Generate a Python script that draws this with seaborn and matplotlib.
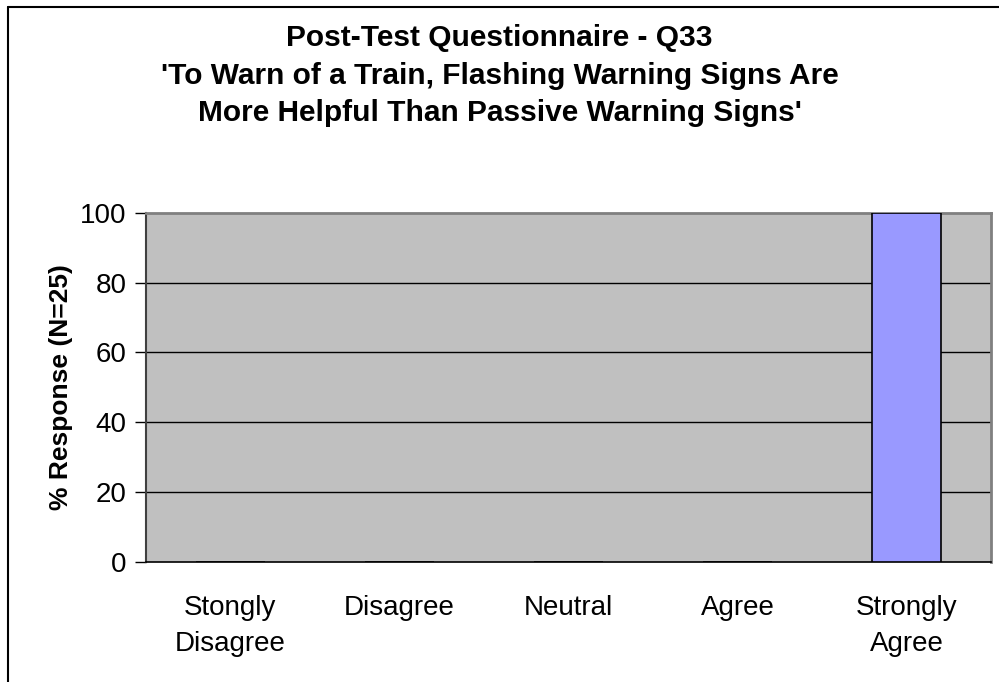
import numpy as np
import pandas as pd
import seaborn as sns
import matplotlib.pyplot as plt
from matplotlib.lines import Line2D

categories = ['Stongly\nDisagree', 'Disagree', 'Neutral', 'Agree', 'Strongly\nAgree']
pct_response = [0, 0, 0, 0, 100]
yticks = [0, 20, 40, 60, 80, 100]

df = pd.DataFrame({'answer': categories, 'pct': pct_response})

sns.set_style('white')
plt.rcParams['font.family'] = ['Liberation Sans', 'DejaVu Sans']
plt.rcParams['text.color'] = 'black'
plt.rcParams['axes.labelcolor'] = 'black'
plt.rcParams['xtick.color'] = 'black'
plt.rcParams['ytick.color'] = 'black'

fig = plt.figure(figsize=(9.99, 6.82), dpi=100)
ax = fig.add_axes([0.146, 0.176, 0.846, 0.512])
ax.set_facecolor('#C0C0C0')

sns.barplot(data=df, x='answer', y='pct', order=categories, color='#9999FF',
            edgecolor='black', linewidth=1.2, width=0.41, saturation=1, ax=ax, zorder=3)

ax.set_xlim(-0.5, 4.5)
ax.set_ylim(0, 100)
ax.set_yticks(yticks)
ax.set_yticklabels([str(v) for v in yticks], fontsize=20)
for v in yticks[1:-1]:
    ax.axhline(v, color='black', lw=1, zorder=1)

ax.set_xticks(range(len(categories)))
ax.set_xticklabels(categories, fontsize=20, linespacing=1.5)
ax.set_xticks(np.arange(-0.5, 5, 1), minor=True)
ax.tick_params(axis='x', which='major', length=0, pad=24)
ax.tick_params(axis='x', which='minor', length=8, width=1, color='black', direction='out')
ax.tick_params(axis='y', length=8, width=1, color='black', direction='out', pad=6, left=True)

ax.set_xlabel('')
ax.set_ylabel('% Response (N=25)', fontsize=19, fontweight='bold', labelpad=5)

for side in ['top', 'right']:
    ax.spines[side].set_color('#808080')
    ax.spines[side].set_linewidth(2)
ax.spines['left'].set_color('#404040')
ax.spines['left'].set_linewidth(1.5)
ax.spines['bottom'].set_color('black')
ax.spines['bottom'].set_linewidth(1.2)

fig.text(0.5, 0.889, "Post-Test Questionnaire - Q33\n'To Warn of a Train, Flashing Warning Signs Are\nMore Helpful Than Passive Warning Signs'",
         ha='center', va='center', fontsize=21.5, fontweight='bold', linespacing=1.44)

# outer chart border (left and top only visible)
fig.add_artist(Line2D([0.008, 0.008], [0, 0.99], transform=fig.transFigure, color='black', lw=1.5))
fig.add_artist(Line2D([0.008, 1], [0.99, 0.99], transform=fig.transFigure, color='black', lw=1.5))

fig.savefig('out.png', dpi=100, facecolor='white')
